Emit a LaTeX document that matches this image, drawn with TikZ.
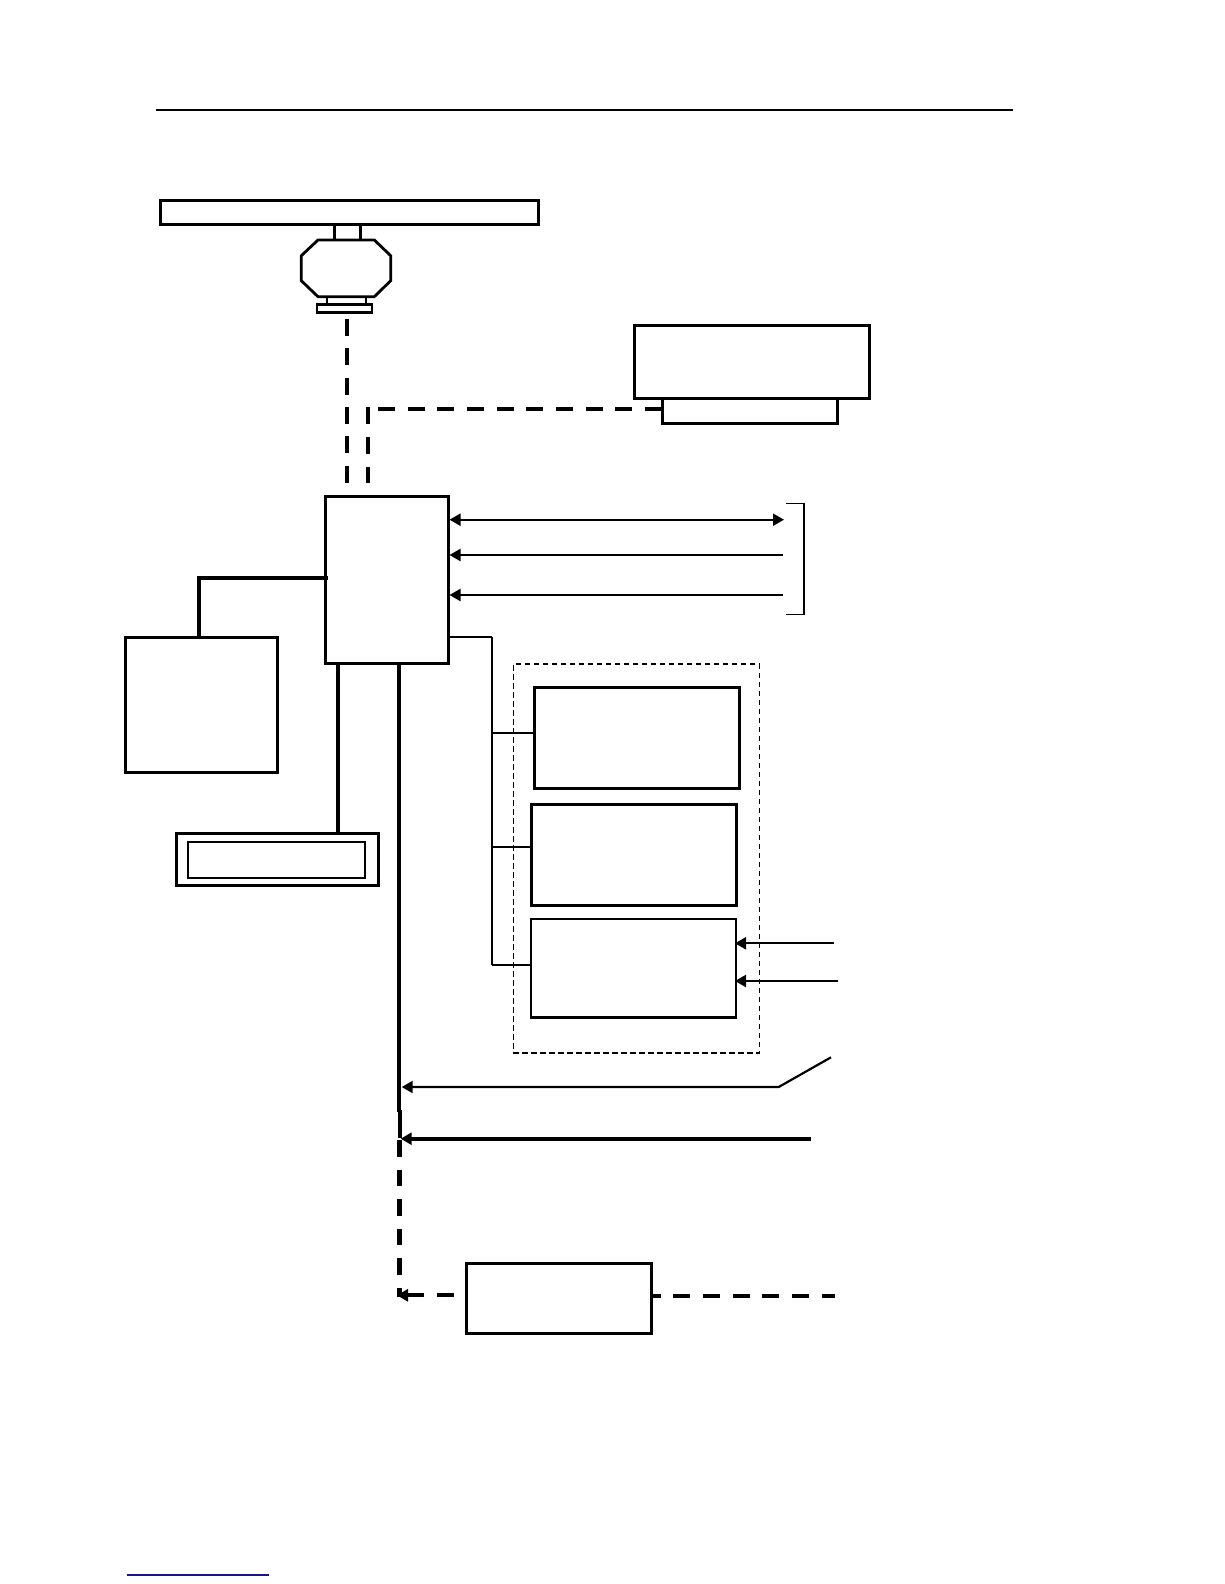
\documentclass[tikz,border=0pt]{standalone}
\usetikzlibrary{arrows.meta}
\definecolor{linkblue}{RGB}{20,20,140}
\tikzset{
  x=1pt,y=-1pt,
  boxbase/.style={draw=black,rectangle,inner sep=0pt,outer sep=0pt,fill=white},
  heavybox/.style={boxbase,line width=3pt},
  midbox/.style={boxbase,line width=2.6pt},
  lightbox/.style={boxbase,line width=2pt},
  framebox/.style={draw=black,rectangle,inner sep=0pt,outer sep=0pt,line width=1.2pt,dash pattern=on 5.5pt off 3.5pt},
  thickline/.style={draw=black,line width=3.8pt},
  thinline/.style={draw=black,line width=1.8pt},
  wideline/.style={draw=black,line width=2.2pt},
  bigdash/.style={draw=black,line width=3.8pt,dash pattern=on 17pt off 12.67pt},
  tip/.style={-{Triangle[length=11pt,width=12pt]}},
  twotip/.style={{Triangle[length=11pt,width=12pt]}-{Triangle[length=11pt,width=12pt]}},
}
\newcommand{\placebox}[6]{%
  \node[#6,minimum width={(#4-#2)*1pt},minimum height={(#5-#3)*1pt}] (#1) at ({(#2+#4)/2},{(#3+#5)/2}) {};}
\begin{document}
\begin{tikzpicture}
\useasboundingbox (0,0) rectangle (1224,1584);
% page rule and foot rule
\coordinate (ruleL) at (156,110); \coordinate (ruleR) at (1013,110);
\draw[wideline] (ruleL) -- (ruleR);
\coordinate (footL) at (126.7,1575); \coordinate (footR) at (269,1575);
\draw[draw=linkblue,line width=1.1pt] (footL) -- (footR);
% antenna
\placebox{stem}{334.7}{224}{360.3}{241}{heavybox}
\placebox{bar}{160.2}{200.5}{538.8}{224.5}{heavybox}
\placebox{neck}{327}{296}{366}{305}{midbox}
\draw[draw=black,fill=white,line width=2.8pt,line join=miter]
  (318,240) -- (301.3,255.7) -- (301.3,280.7) -- (318,296.7) -- (374.3,296.7)
  -- (390.7,280.7) -- (390.7,255.7) -- (374.3,240) -- cycle;
\placebox{base}{317}{304.7}{372}{312.7}{midbox}
% boxes
\placebox{upperR}{634.3}{325.3}{869.7}{398.3}{heavybox}
\placebox{lowerR}{662.3}{398.3}{837.7}{423.3}{heavybox}
\placebox{main}{325.7}{496.3}{448}{663.3}{heavybox}
\placebox{left}{125.7}{637.3}{277.3}{772.3}{heavybox}
\placebox{kbOuter}{176.7}{833.3}{378.3}{885.3}{heavybox}
\placebox{kbInner}{188}{842}{365}{877.7}{lightbox}
\placebox{frame}{513.3}{664}{759.3}{1053}{framebox}
\placebox{boxA}{534.3}{687.7}{739.3}{788}{heavybox}
\placebox{boxB}{531.3}{804.7}{736.7}{905.7}{heavybox}
\placebox{boxC}{531}{919}{736}{1017.3}{midbox}
\placebox{boxD}{466.3}{1263.3}{651.7}{1333.3}{heavybox}
% dashed links at the top
\coordinate (d1a) at (347,319); \coordinate (d1b) at (347,483);
\draw[bigdash,dash pattern=on 17pt off 12.3pt] (d1a) -- (d1b);
\coordinate (d2a) at (368,407); \coordinate (d2b) at (368,483);
\draw[bigdash,line width=3.5pt,dash pattern=on 16.5pt off 13.5pt] (d2a) -- (d2b);
\coordinate (d3) at (378,409);
\draw[bigdash] (d3) -- (d3 -| lowerR.west);
% lines to the left box and keyboard
\coordinate (leftCorner) at (199.3,578);
\coordinate (mainTap) at (328,578);
\draw[thickline,line join=miter] (mainTap) -- (leftCorner) -- (leftCorner |- left.north);
\coordinate (kbTop) at (338,663.3);
\draw[thickline] (kbTop) -- (kbTop |- kbOuter.north);
% main bus
\coordinate (bus1) at (399,663.3); \coordinate (bus2) at (399,1112);
\coordinate (bus3) at (399.6,1110); \coordinate (bus4) at (399.6,1138);
\draw[thickline] (bus1) -- (bus2);
\draw[thickline] (bus3) -- (bus4);
\coordinate (bus5) at (399.5,1140); \coordinate (bus6) at (399.5,1297);
\draw[bigdash,line width=4.4pt,dash pattern=on 16.5pt off 13.1pt] (bus5) -- (bus6);
% arrows at the right of main
\coordinate (a1) at (784,519.7); \coordinate (a2) at (783,555); \coordinate (a3) at (783,595);
\draw[wideline,twotip,shorten <=1.5pt] (a1 -| main.east) -- (a1);
\draw[wideline,tip,shorten >=1.5pt] (a2) -- (a2 -| main.east);
\draw[wideline,tip,shorten >=1.5pt] (a3) -- (a3 -| main.east);
% bracket
\coordinate (brT) at (786,503.3); \coordinate (brB) at (786,614.7);
\coordinate (brTR) at (804,503.3); \coordinate (brBR) at (804,614.7);
\draw[draw=black,line width=1.4pt] (brT) -- (brTR) -- (brBR) -- (brB);
% branch tree
\coordinate (t0) at (492,636.7); \coordinate (t1) at (492,732.7);
\coordinate (t2) at (492,847); \coordinate (t3) at (492,965.3);
\draw[thinline] (t0 -| main.east) -- (t0);
\draw[wideline] (t0) -- (t3);
\draw[thinline] (t1) -- (t1 -| boxA.west);
\draw[thinline] (t2) -- (t2 -| boxB.west);
\draw[thinline] (t3) -- (t3 -| boxC.west);
% arrows into box C
\coordinate (c1) at (834.3,943.3); \coordinate (c2) at (838.3,981);
\draw[wideline,tip,shorten >=-1pt] (c1) -- (c1 -| boxC.east);
\draw[wideline,tip,shorten >=-1pt] (c2) -- (c2 -| boxC.east);
% switch arrow
\coordinate (sw0) at (831,1057.3); \coordinate (sw1) at (778.7,1087); \coordinate (sw2) at (401.7,1087);
\draw[wideline,tip] (sw0) -- (sw1) -- (sw2);
% heavy arrow
\coordinate (h1) at (810.7,1138.7); \coordinate (h2) at (400.7,1138.7);
\draw[line width=4.2pt,draw=black,tip] (h1) -- (h2);
% dashed links of box D
\coordinate (dL) at (397,1295.3); \coordinate (dR) at (835.3,1295.7);
\draw[bigdash,dash phase=17pt,tip] (boxD.west |- dL) -- (dL);
\draw[bigdash,dash phase=8pt] (boxD.east |- dR) -- (dR);
\end{tikzpicture}
\end{document}
